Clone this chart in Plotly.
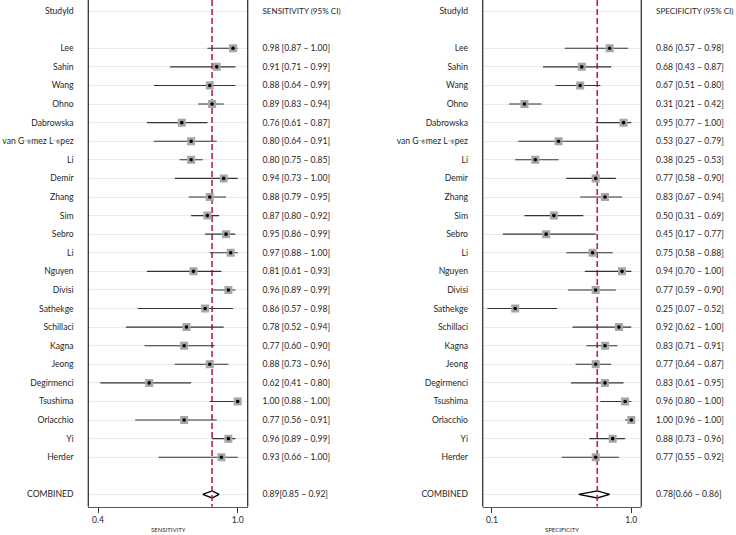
import plotly.graph_objects as go

# ---------------- data ----------------
studies = ["Lee", "Sahin", "Wang", "Ohno", "Dabrowska", "van G\u00a8\u00aemez L\u00a8\u00aepez", "Li",
           "Demir", "Zhang", "Sim", "Sebro", "Li", "Nguyen", "Divisi", "Sathekge",
           "Schillaci", "Kagna", "Jeong", "Degirmenci", "Tsushima", "Orlacchio", "Yi", "Herder"]

sens = [0.98, 0.91, 0.88, 0.89, 0.76, 0.80, 0.80, 0.94, 0.88, 0.87, 0.95, 0.97, 0.81,
        0.96, 0.86, 0.78, 0.77, 0.88, 0.62, 1.00, 0.77, 0.96, 0.93]
sens_lo = [0.87, 0.71, 0.64, 0.83, 0.61, 0.64, 0.75, 0.73, 0.79, 0.80, 0.86, 0.88, 0.61,
           0.89, 0.57, 0.52, 0.60, 0.73, 0.41, 0.88, 0.56, 0.89, 0.66]
sens_hi = [1.00, 0.99, 0.99, 0.94, 0.87, 0.91, 0.85, 1.00, 0.95, 0.92, 0.99, 1.00, 0.93,
           0.99, 0.98, 0.94, 0.90, 0.96, 0.80, 1.00, 0.91, 0.99, 1.00]

spec = [0.86, 0.68, 0.67, 0.31, 0.95, 0.53, 0.38, 0.77, 0.83, 0.50, 0.45, 0.75, 0.94,
        0.77, 0.25, 0.92, 0.83, 0.77, 0.83, 0.96, 1.00, 0.88, 0.77]
spec_lo = [0.57, 0.43, 0.51, 0.21, 0.77, 0.27, 0.25, 0.58, 0.67, 0.31, 0.17, 0.58, 0.70,
           0.59, 0.07, 0.62, 0.71, 0.64, 0.61, 0.80, 0.96, 0.73, 0.55]
spec_hi = [0.98, 0.87, 0.80, 0.42, 1.00, 0.79, 0.53, 0.90, 0.94, 0.69, 0.77, 0.88, 1.00,
           0.90, 0.52, 1.00, 0.91, 0.87, 0.95, 1.00, 1.00, 0.96, 0.92]

combined_sens = [0.89, 0.85, 0.92]
combined_spec = [0.78, 0.66, 0.86]

sens_ticks = [0.4, 1.0]
spec_ticks = [0.1, 1.0]

# ---------------- layout helpers ----------------
W, H = 736, 535
FONT = "Lato"
TXT = "#262626"
FS = 8.6

header_row = 0
study_rows = list(range(2, 2 + len(studies)))
comb_row = study_rows[-1] + 2

y_top = -0.597
y_bot = 26.66
ydom = [(H - 506.7) / H, 1.0]


def label_html(s):
    # the mojibake symbols are rendered small, as in the reference
    return (s.replace("\u00a8", "<span style='font-size:6px'>\u00a8</span>")
             .replace("\u00ae", "<span style='font-size:5.5px'>\u00ae</span>"))


def header_html(s):
    return f"<span style='font-size:8.1px'>{s}</span>"


name_labels = [label_html(s) for s in studies]

panels = [
    dict(est=sens, lo=sens_lo, hi=sens_hi, comb=combined_sens, ticks=sens_ticks,
         title="SENSITIVITY", head="SENSITIVITY (95% CI)",
         dom=[88.3 / W, 247.7 / W], rng=[0.3583, 1.043]),
    dict(est=spec, lo=spec_lo, hi=spec_hi, comb=combined_spec, ticks=spec_ticks,
         title="SPECIFICITY", head="SPECIFICITY (95% CI)",
         dom=[482.7 / W, 641.3 / W], rng=[0.040, 1.0646]),
]

fig = go.Figure()
layout = dict(width=W, height=H, margin=dict(l=0, r=0, t=0, b=0, autoexpand=False),
              paper_bgcolor="white", plot_bgcolor="white", showlegend=False,
              hovermode=False,
              font=dict(family=FONT, size=FS, color=TXT))
shapes = []
annotations = []

for i, p in enumerate(panels):
    xn = "x" if i == 0 else "x2"
    yn = "y" if i == 0 else "y2"
    yr = "y3" if i == 0 else "y4"
    xk = "xaxis" if i == 0 else "xaxis2"
    yk = "yaxis" if i == 0 else "yaxis2"
    yrk = "yaxis3" if i == 0 else "yaxis4"

    c_est, c_lo, c_hi = p["comb"]
    dh = 0.19
    # combined diamond
    fig.add_trace(go.Scatter(
        x=[c_lo, c_est, c_hi, c_est, c_lo],
        y=[comb_row, comb_row - dh, comb_row, comb_row + dh, comb_row],
        mode="lines", fill="toself", fillcolor="white",
        line=dict(color="black", width=1.3), hoverinfo="skip",
        xaxis=xn, yaxis=yn))
    # dashed pooled line
    fig.add_trace(go.Scatter(
        x=[c_est, c_est], y=[y_top, y_bot], mode="lines",
        line=dict(color="#b3224f", width=1.6, dash="6px,3px"),
        hoverinfo="skip", xaxis=xn, yaxis=yn))
    # CI lines + squares
    fig.add_trace(go.Scatter(
        x=p["est"], y=study_rows, mode="markers",
        marker=dict(symbol="square", size=8, color="#a6a6a6", line=dict(width=0)),
        error_x=dict(type="data", symmetric=False,
                     array=[h - e for e, h in zip(p["est"], p["hi"])],
                     arrayminus=[e - l for e, l in zip(p["est"], p["lo"])],
                     color="#333333", thickness=1.1, width=0),
        xaxis=xn, yaxis=yn))
    # centre dots
    fig.add_trace(go.Scatter(
        x=p["est"], y=study_rows, mode="markers",
        marker=dict(symbol="circle", size=3.6, color="black"),
        xaxis=xn, yaxis=yn))
    # dummy trace for right-hand label axis
    fig.add_trace(go.Scatter(x=[None], y=[None], mode="markers",
                             xaxis=xn, yaxis=yr, hoverinfo="skip"))

    ci_text = [f"{e:.2f} [{l:.2f} \u2013 {h:.2f}]" for e, l, h in zip(p["est"], p["lo"], p["hi"])]
    comb_text = f"{c_est:.2f}[{c_lo:.2f} \u2013 {c_hi:.2f}]"

    layout[xk] = dict(domain=p["dom"], range=p["rng"], anchor=yn, automargin=False,
                      tickvals=p["ticks"], ticktext=[f"{t:.1f}" for t in p["ticks"]],
                      ticks="outside", ticklen=5, tickcolor="#333", tickwidth=1,
                      showline=True, linecolor="#555", linewidth=1.2,
                      showgrid=False, zeroline=False,
                      tickfont=dict(size=FS, color=TXT))
    layout[yk] = dict(domain=ydom, range=[y_bot, y_top], anchor=xn, automargin=False,
                      tickvals=[header_row] + study_rows + [comb_row],
                      ticktext=["StudyId"] + name_labels + ["COMBINED"],
                      ticks="outside", ticklen=12, tickcolor="rgba(0,0,0,0)",
                      showgrid=True, gridcolor="#e6ebf0", gridwidth=1,
                      zeroline=False, showline=False,
                      tickfont=dict(size=FS, color=TXT))
    layout[yrk] = dict(domain=ydom, range=[y_bot, y_top], anchor=xn, overlaying=yn,
                       side="right", automargin=False,
                       tickvals=[header_row] + study_rows + [comb_row],
                       ticktext=[header_html(p["head"])] + ci_text + [comb_text],
                       ticks="outside", ticklen=12, tickcolor="rgba(0,0,0,0)",
                       showgrid=False, zeroline=False, showline=False,
                       tickfont=dict(size=FS, color=TXT))
    for xe in (0, 1):
        shapes.append(dict(type="line", xref=f"{xn} domain", yref="paper",
                           x0=xe, x1=xe, y0=ydom[0], y1=1,
                           line=dict(color="#333", width=1.3)))
    annotations.append(dict(text=p["title"], xref=f"{xn} domain", yref="paper",
                            x=0.5, y=0.0, xanchor="center", yanchor="bottom",
                            showarrow=False, font=dict(size=6, color=TXT)))

layout["shapes"] = shapes
layout["annotations"] = annotations
fig.update_layout(**layout)
fig.write_html("out.html", config={"displayModeBar": False},
               post_script="document.body.style.margin='0';document.body.style.overflow='hidden';")
